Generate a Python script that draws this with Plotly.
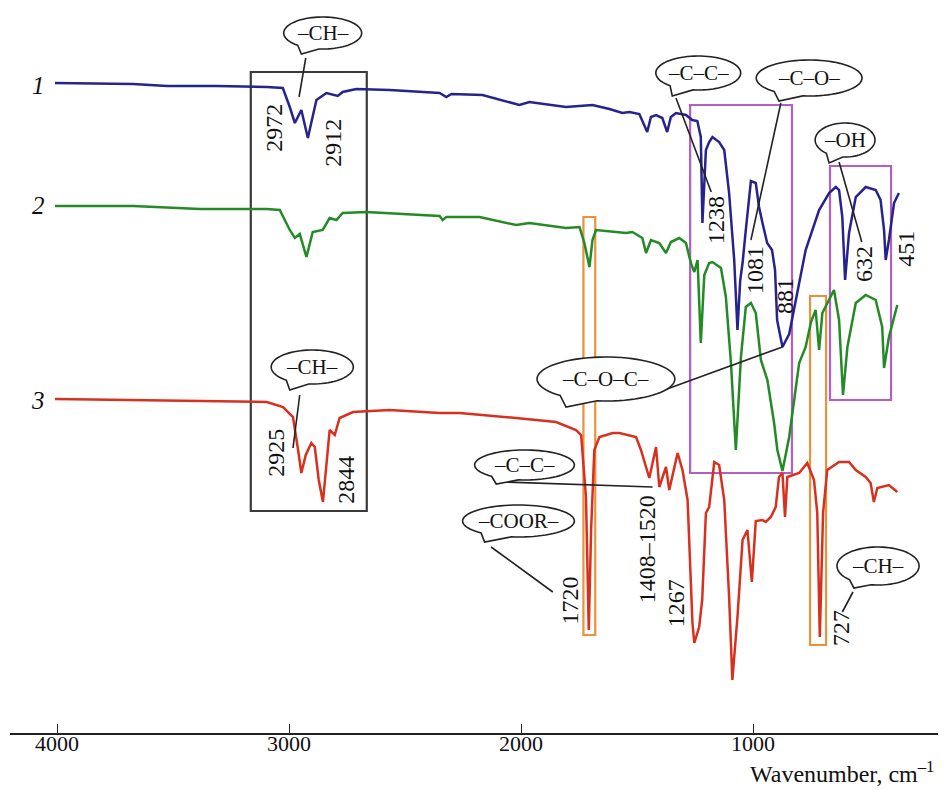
import numpy as np
import plotly.graph_objects as go

# ---------------- data (wavenumber, cm-1 ; offset transmittance, a.u.) ----------------
wn1 = [4009, 3673, 3526, 3311, 3096, 3027, 2997, 2975, 2947, 2919, 2882, 2839, 2790, 2769,
       2710, 2566, 2351, 2322, 2300, 2166, 2007, 1964, 1806, 1692, 1619, 1563, 1533, 1490,
       1456, 1440, 1418, 1391, 1370, 1354, 1332, 1289, 1262, 1240, 1225, 1218, 1203, 1189,
       1175, 1146, 1124, 1103, 1081, 1067, 1055, 1045, 1031, 1009, 988, 974, 959, 939, 918,
       905, 896, 873, 844, 816, 773, 715, 672, 643, 629, 615, 603, 586, 557, 514, 471, 450,
       435, 428, 414, 392, 371]
t1 = [650, 649, 647, 647, 646, 645, 626, 610, 623, 595, 633, 640, 637, 641,
      644, 643, 640, 636, 639, 638, 628, 631, 626, 628, 624, 620, 621, 619,
      601, 616, 618, 615, 601, 616, 620, 618, 613, 612, 596, 510, 583, 591,
      596, 591, 583, 540, 473, 403, 453, 470, 503, 552, 550, 526, 510, 490, 483,
      463, 413, 386, 399, 433, 483, 523, 540, 546, 543, 516, 453, 500, 536, 546, 543, 533,
      503, 473, 493, 530, 540]

wn2 = [4009, 3673, 3384, 3096, 3040, 2997, 2975, 2954, 2925, 2898, 2855, 2825, 2796, 2769,
       2667, 2351, 2338, 2322, 2179, 2021, 1964, 1806, 1748, 1727, 1705, 1692, 1677, 1547,
       1520, 1477, 1461, 1440, 1404, 1375, 1354, 1318, 1289, 1268, 1253, 1239, 1225, 1210,
       1189, 1175, 1138, 1117, 1095, 1074, 1052, 1031, 1009, 988, 966, 938, 909, 895, 873,
       844, 801, 773, 750, 730, 715, 701, 651, 629, 612, 593, 557, 514, 471, 443, 435, 414, 378]
t2 = [527, 527, 524, 524, 523, 503, 495, 499, 476, 501, 503, 515, 513, 520,
      521, 517, 513, 516, 516, 508, 510, 505, 506, 490, 466, 493, 503, 500,
      501, 495, 480, 493, 490, 480, 491, 495, 490, 470, 461, 473, 390, 458,
      470, 471, 465, 436, 370, 283, 376, 426, 430, 420, 373, 353, 310, 283, 262,
      296, 370, 386, 411, 423, 383, 420, 443, 413, 338, 386, 430, 438, 433, 406, 365, 396, 428]

wn3 = [4009, 3673, 3384, 3096, 3026, 2983, 2961, 2947, 2928, 2904, 2889, 2872, 2854, 2838,
       2825, 2803, 2782, 2724, 2566, 2351, 2265, 2021, 1849, 1763, 1741, 1720, 1708, 1698,
       1684, 1662, 1605, 1576, 1504, 1483, 1447, 1418, 1404, 1375, 1361, 1325, 1304, 1282,
       1261, 1253, 1232, 1219, 1203, 1189, 1167, 1146, 1124, 1103, 1089, 1067, 1045, 1024,
       1005, 988, 959, 945, 923, 902, 888, 873, 862, 852, 801, 766, 737, 723, 712, 698, 680,
       629, 586, 557, 514, 493, 479, 464, 414, 378]
t3 = [334, 333, 332, 331, 326, 316, 283, 260, 278, 290, 286, 253, 231, 273,
      303, 298, 315, 321, 323, 320, 320, 315, 311, 303, 298, 236, 103, 203,
      283, 296, 300, 300, 296, 283, 255, 286, 246, 266, 243, 280, 263, 233,
      110, 90, 106, 133, 220, 226, 271, 268, 233, 136, 53, 116, 193, 203,
      151, 212, 213, 211, 216, 226, 256, 260, 216, 256, 260, 270, 253, 220, 96, 220, 263,
      271, 271, 263, 256, 250, 231, 245, 248, 241]

series_names = ["1", "2", "3"]
tick_vals = [4000, 3000, 2000, 1000]
tick_text = ["4000", "3000", "2000", "1000"]

# peak labels: (text, wavenumber, intensity)
peak_labels = [("2972", 3066, 605), ("2912", 2812, 590), ("1238", 1159, 513),
               ("1081", 991, 463), ("881", 862, 437), ("632", 522, 469), ("451", 341, 484),
               ("2925", 3057, 280), ("2844", 2756, 253), ("1720", 1787, 133),
               ("1408–1520", 1456, 184), ("1267", 1331, 130), ("727", 621, 105)]

# group bubbles: text, centre (w, I), radii (w, I), tail tip (w, I), leader line (w0, I0, w1, I1)
bubbles = [("–CH–", 2855, 700, 168, 16, 2947, 679, (2928, 675, 2957, 636)),
           ("–C–C–", 1236, 660, 183, 17, 1348, 637, (1332, 635, 1180, 541)),
           ("–C–O–", 758, 655, 228, 18, 888, 632, (880, 630, 1009, 493)),
           ("–OH", 603, 593, 129, 17, 672, 570, (629, 571, 531, 491)),
           ("–CH–", 2900, 366, 177, 17, 2997, 343, (2954, 338, 2983, 285)),
           ("–C–O–C–", 1634, 354, 297, 22, 1806, 326, (1418, 340, 873, 386)),
           ("–C–C–", 1985, 268, 215, 15, 2107, 249, (2071, 251, 1433, 246)),
           ("–COOR–", 2011, 212, 241, 16, 2157, 191, (2129, 186, 1863, 141)),
           ("–CH–", 461, 167, 177, 19, 565, 145, (569, 141, 615, 121))]

# highlighted regions: (w_left, w_right, I_bottom, I_top, colour)
boxes = [(3165, 2665, 222, 661, "#3a3a3a"),
         (1271, 832, 260, 628, "#b25ec6"),
         (668, 405, 333, 567, "#b25ec6"),
         (1731, 1680, 98, 516, "#e8923a"),
         (754, 685, 88, 437, "#e8923a")]

BLUE, GREEN, RED = "#27238c", "#238a25", "#d8301f"
SERIF = "Liberation Serif"

fig = go.Figure()
for wn, tt, col, nm in [(wn1, t1, BLUE, series_names[0]), (wn2, t2, GREEN, series_names[1]),
                        (wn3, t3, RED, series_names[2])]:
    fig.add_trace(go.Scatter(x=wn, y=tt, mode="lines", name=nm,
                             line=dict(color=col, width=2.5), hoverinfo="skip"))

shapes = []
for (w0, w1, i0, i1, col) in boxes:
    shapes.append(dict(type="rect", xref="x", yref="y", x0=w0, x1=w1, y0=i0, y1=i1,
                       line=dict(color=col, width=2.2), fillcolor="rgba(0,0,0,0)", layer="below"))

annotations = []
for (txt, cw, ci, rw, ri, tw, ti, lead) in bubbles:
    shapes.append(dict(type="line", xref="x", yref="y", x0=lead[0], y0=lead[1], x1=lead[2], y1=lead[3],
                       line=dict(color="#222", width=1.6), layer="above"))
    u, v = (tw - cw) / rw, (ti - ci) / ri
    phi = np.arctan2(v, u)
    g = 0.3
    ts = np.linspace(phi + g, phi + 2 * np.pi - g, 72)
    pts = [(cw + rw * np.cos(t), ci + ri * np.sin(t)) for t in ts]
    path = "M " + " L ".join(f"{x:.2f},{y:.2f}" for x, y in pts) + f" L {tw},{ti} Z"
    shapes.append(dict(type="path", xref="x", yref="y", path=path,
                       line=dict(color="#222", width=1.6), fillcolor="white", layer="above"))
    annotations.append(dict(x=cw, y=ci, xref="x", yref="y", text=txt, showarrow=False,
                            font=dict(family=SERIF, size=21, color="#111")))

for (txt, w, i) in peak_labels:
    annotations.append(dict(x=w, y=i, xref="x", yref="y", text=txt, showarrow=False, textangle=-90,
                            font=dict(family=SERIF, size=24, color="#111")))

for nm, i in zip(series_names, [648, 528, 333]):
    annotations.append(dict(x=4082, y=i, xref="x", yref="y", text=f"<i>{nm}</i>", showarrow=False,
                            font=dict(family=SERIF, size=25, color="#111")))

# x tick labels placed just under the axis line at the tick positions
for tv, tt in zip(tick_vals, tick_text):
    annotations.append(dict(x=tv, y=-10 / 725, xref="x", yref="paper", text=tt, showarrow=False,
                            xanchor="center", yanchor="middle",
                            font=dict(family=SERIF, size=22, color="#111")))

annotations.append(dict(x=0.99, y=-39 / 725, xref="paper", yref="paper", xanchor="right", yanchor="middle",
                        text="Wavenumber, cm<sup>–1</sup>", showarrow=False,
                        font=dict(family=SERIF, size=24, color="#111")))

# the page body has an 8 px margin, so the figure is shifted/shrunk by 8 px accordingly
fig.update_layout(
    width=938, height=782, autosize=False,
    margin=dict(l=2, r=0, t=0, b=57),
    font=dict(family=SERIF, color="#111"),
    paper_bgcolor="white", plot_bgcolor="white",
    showlegend=False,
    shapes=shapes, annotations=annotations,
    xaxis=dict(range=[4203, 168], tickvals=tick_vals, ticktext=tick_text, showticklabels=False,
               ticks="inside", ticklen=9, tickwidth=1.3, tickcolor="#222",
               showline=True, linecolor="#222", linewidth=2, showgrid=False, zeroline=False),
    yaxis=dict(range=[0, 725], visible=False, showgrid=False, zeroline=False),
)

fig.write_html("out.html")
